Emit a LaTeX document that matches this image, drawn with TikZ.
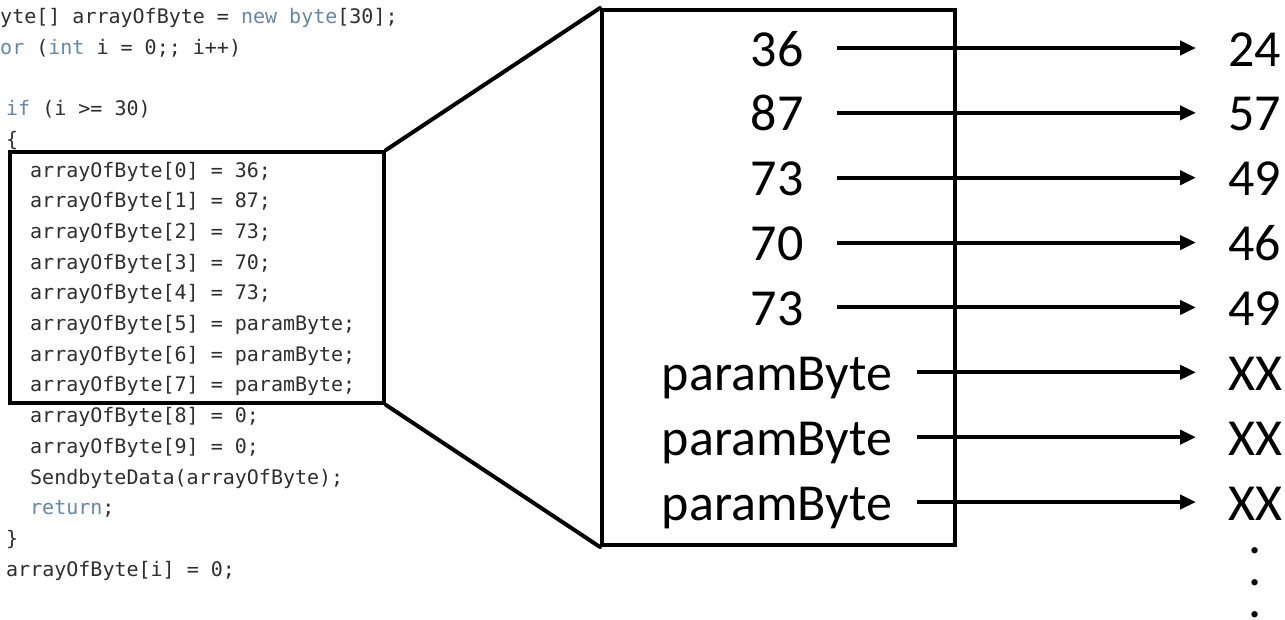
\documentclass[tikz,border=0pt]{standalone}
\usepackage{fontspec}
\setmainfont{Carlito}
\newfontfamily\codefont{DejaVu Sans Mono}
\usetikzlibrary{arrows.meta}
\definecolor{codegray}{HTML}{2E2E2E}
\definecolor{kwblue}{HTML}{6485AE}
\newcommand\kwd[1]{\textcolor{kwblue}{#1}}
\begin{document}
\begin{tikzpicture}[x=1pt,y=-1pt,
  code/.style={anchor=base west, inner sep=0pt, font=\codefont\fontsize{20}{22}\selectfont, text=codegray},
  val/.style={anchor=base, inner sep=0pt, font=\fontsize{52}{60}\selectfont},
  res/.style={anchor=base west, inner sep=0pt, font=\fontsize{52}{60}\selectfont},
  frame/.style={draw, line width=4pt, line join=miter, inner sep=0pt, anchor=north west},
  conn/.style={line width=4pt, line cap=round},
  arr/.style={line width=4pt, -{Triangle[length=16pt,width=14pt]}}]
\useasboundingbox (0,0) rectangle (1285,619);
% code lines: centre y = 170 + 30.7k, baseline = centre + 7
\node[code] (c1) at (-12,23.5) {byte[] arrayOfByte = \kwd{new byte}[30];};
\node[code] (c2) at (-12,54.2) {\kwd{for} (\kwd{int} i = 0;; i++)};
\node[code] (c3) at (6,115.6) {\kwd{if} (i >= 30)};
\node[code] (c4) at (6,146.3) {\{};
\node[code] (c5) at (30,177.0) {arrayOfByte[0] = 36;};
\node[code] (c6) at (30,207.7) {arrayOfByte[1] = 87;};
\node[code] (c7) at (30,238.4) {arrayOfByte[2] = 73;};
\node[code] (c8) at (30,269.1) {arrayOfByte[3] = 70;};
\node[code] (c9) at (30,299.8) {arrayOfByte[4] = 73;};
\node[code] (c10) at (30,330.5) {arrayOfByte[5] = paramByte;};
\node[code] (c11) at (30,361.2) {arrayOfByte[6] = paramByte;};
\node[code] (c12) at (30,391.9) {arrayOfByte[7] = paramByte;};
\node[code] (c13) at (30,422.6) {arrayOfByte[8] = 0;};
\node[code] (c14) at (30,453.3) {arrayOfByte[9] = 0;};
\node[code] (c15) at (30,484.0) {SendbyteData(arrayOfByte);};
\node[code] (c16) at (30,514.7) {\kwd{return};};
\node[code] (c17) at (6,545.4) {\}};
\node[code] (c18) at (6,576.1) {arrayOfByte[i] = 0;};
% boxes
\node[frame, minimum width=374pt, minimum height=251pt] (lb) at (8,150) {};
\node[frame, minimum width=353pt, minimum height=535pt] (bb) at (600,8) {};
\draw[conn] (lb.north east) -- (bb.north west);
\draw[conn] (lb.south east) -- (bb.south west);
% values and arrows
\foreach \i/\a/\b/\sx in {0/36/24/837, 1/87/57/837, 2/73/49/837, 3/70/46/837, 4/73/49/837,
  5/paramByte/XX/917, 6/paramByte/XX/917, 7/paramByte/XX/917} {
  \pgfmathsetmacro\yy{48+64.86*\i}
  \pgfmathsetmacro\yb{\yy+18}
  \node[val] (l\i) at (777,\yb) {\a};
  \node[res] (r\i) at (1228,\yb) {\b};
  \coordinate (s\i) at (\sx,\yy);
  \draw[arr, shorten >=32pt] (s\i) -- (r\i.west |- s\i);
}
\node[val] (d1) at (1255,553) {.};
\node[val] (d2) at (1255,585) {.};
\node[val] (d3) at (1255,617) {.};
\end{tikzpicture}
\end{document}
